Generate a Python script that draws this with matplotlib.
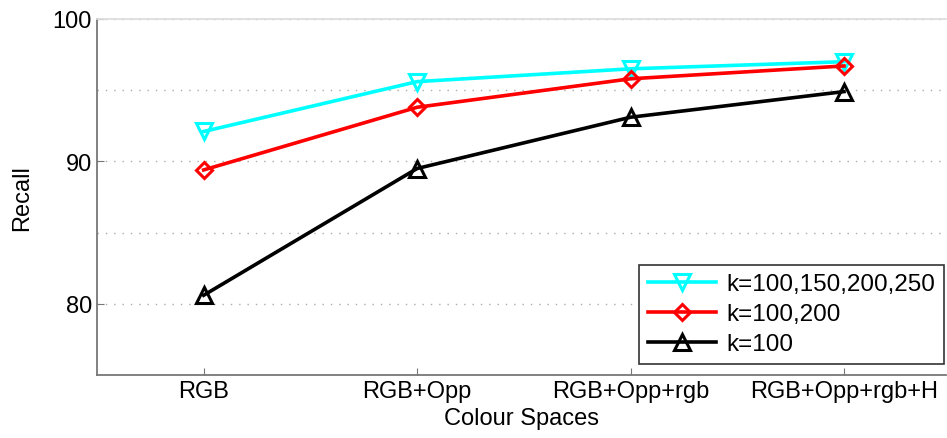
import matplotlib.pyplot as plt
import numpy as np

plt.rcParams['font.family'] = ['Liberation Sans', 'DejaVu Sans']

### Data ###
spaces = ['RGB', 'RGB+Opp', 'RGB+Opp+rgb', 'RGB+Opp+rgb+H']
recall_k4 = [92.1, 95.6, 96.5, 97.0]   # k=100,150,200,250
recall_k2 = [89.4, 93.8, 95.8, 96.7]   # k=100,200
recall_k1 = [80.6, 89.5, 93.1, 94.9]   # k=100

x = np.arange(1, len(spaces) + 1)

fig = plt.figure(figsize=(9.47, 4.39), dpi=100)
ax = fig.add_axes([0.1024, 0.1435, 0.897, 0.811])

ax.plot(x, recall_k4, color='cyan', lw=2.6, marker='v', ms=11, mew=2.2,
        mfc='none', label='k=100,150,200,250')
ax.plot(x, recall_k2, color='red', lw=2.6, marker='D', ms=8, mew=2.2,
        mfc='none', label='k=100,200')
ax.plot(x, recall_k1, color='black', lw=2.6, marker='^', ms=11, mew=2.2,
        mfc='none', label='k=100')

ax.set_xlim(0.5, 4.48)
ax.set_ylim(75, 100)
ax.set_xticks(x)
ax.set_xticklabels(spaces)
ax.set_yticks([80, 90, 100])
ax.set_yticks([85, 95], minor=True)
ax.tick_params(axis='both', which='both', direction='in', labelsize=17,
               color='#777777', length=5)
ax.tick_params(axis='y', which='minor', length=0)
ax.grid(True, axis='y', which='both', linestyle=(0, (1, 5)), color='#aaaaaa', lw=1)

for s in ['left', 'bottom']:
    ax.spines[s].set_color('#777777')
    ax.spines[s].set_linewidth(1.3)
ax.spines['top'].set_color('#dddddd')
ax.spines['top'].set_linewidth(1.3)
ax.spines['right'].set_visible(False)

ax.set_xlabel('Colour Spaces', fontsize=17, labelpad=4)
ax.set_ylabel('Recall', fontsize=17, labelpad=14)

leg = ax.legend(loc='lower right', fontsize=17.5, handlelength=2.8,
                fancybox=False, framealpha=1, borderpad=0.35,
                labelspacing=0.33, handletextpad=0.45, borderaxespad=0,
                bbox_to_anchor=(0.997, 0.031))
leg.get_frame().set_edgecolor('#333333')
leg.get_frame().set_linewidth(1.2)

fig.savefig('out.png', dpi=100)
